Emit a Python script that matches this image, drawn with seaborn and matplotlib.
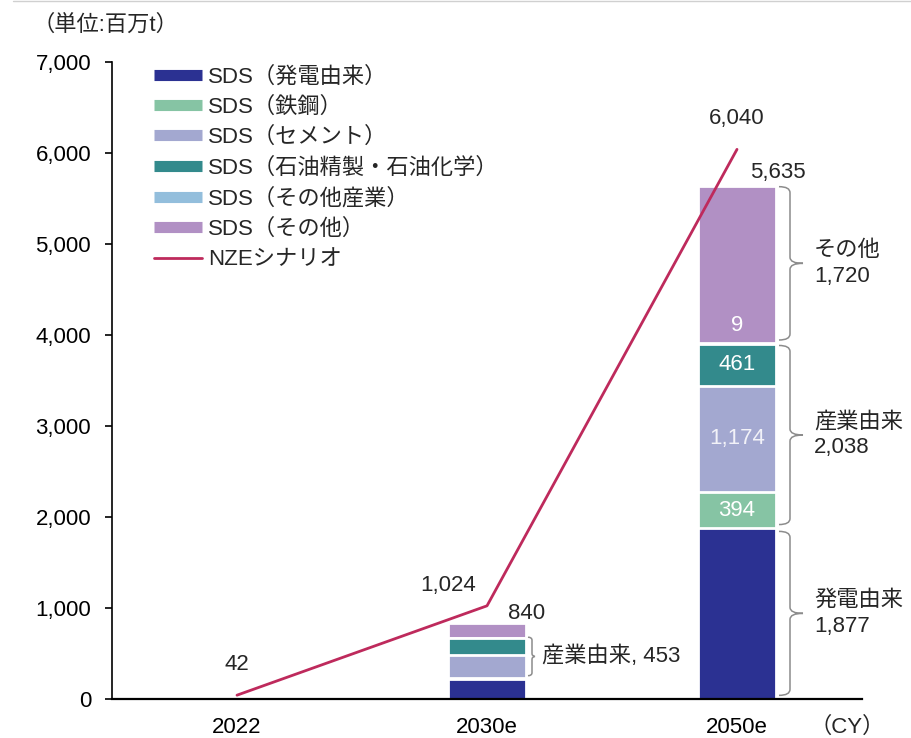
import numpy as np
import matplotlib
matplotlib.use("Agg")
import matplotlib.pyplot as plt
from matplotlib.path import Path
from matplotlib.patches import PathPatch
from matplotlib.lines import Line2D
from matplotlib.ticker import FuncFormatter, MultipleLocator
import seaborn as sns

# ---------------- data ----------------
years = ["2022", "2030e", "2050e"]
power = [0, 219, 1877]        # SDS（発電由来）
steel = [0, 10, 394]          # SDS（鉄鋼）
cement = [0, 255, 1174]       # SDS（セメント）
petchem = [0, 182, 461]       # SDS（石油精製・石油化学）
other_ind = [0, 6, 9]         # SDS（その他産業）
other = [0, 168, 1720]        # SDS（その他）
nze = [42, 1024, 6040]        # NZEシナリオ

series_names = ["SDS（発電由来）", "SDS（鉄鋼）", "SDS（セメント）",
                "SDS（石油精製・石油化学）", "SDS（その他産業）", "SDS（その他）"]
nze_name = "NZEシナリオ"
colors = ["#2B3192", "#86C4A4", "#A3A8D0", "#338A8C", "#93BEDC", "#B190C4"]
line_color = "#BE2A5C"

sns.set_theme(style="ticks")
plt.rcParams["font.family"] = ["Liberation Sans", "Noto Sans CJK JP", "DejaVu Sans"]
FS = 16

W, H = 911, 738
fig = plt.figure(figsize=(W / 100, H / 100), dpi=100)
ax_l, ax_b, ax_w, ax_h = 112, 39, 750, 637
ax = fig.add_axes([ax_l / W, ax_b / H, ax_w / W, ax_h / H])

series = [power, steel, cement, petchem, other_ind, other]
cums = np.cumsum(np.array(series, dtype=float), axis=0)
BW = 0.31
# draw cumulative stacks from top to bottom (overlay stacking)
for i in range(len(series) - 1, -1, -1):
    sns.barplot(x=years, y=cums[i], color=colors[i], width=BW, order=years,
                edgecolor="white", linewidth=2, saturation=1, errorbar=None, ax=ax)

xpos = np.arange(len(years))
sns.lineplot(x=xpos, y=nze, color=line_color, linewidth=2, ax=ax)

ax.set_xlim(-0.5, 2.5)
ax.set_ylim(0, 7000)
ax.yaxis.set_major_locator(MultipleLocator(1000))
ax.yaxis.set_major_formatter(FuncFormatter(lambda v, _: f"{int(v):,}"))
ax.set_xticks(xpos)
ax.set_xticklabels(years)
ax.set_xlabel("")
ax.set_ylabel("")
for s in ["top", "right"]:
    ax.spines[s].set_visible(False)
ax.spines["left"].set_color("black")
ax.spines["left"].set_linewidth(1.2)
ax.spines["bottom"].set_color("black")
ax.spines["bottom"].set_linewidth(1.6)
ax.tick_params(axis="y", direction="out", length=5, width=1.2, pad=10, labelsize=FS,
               colors="black")
ax.tick_params(axis="x", length=0, pad=13, labelsize=FS, colors="black")

# pixel -> data unit helpers
ux = 3.0 / ax_w
uy = 7000.0 / ax_h

def off(text, x, y, dx, dy, **kw):
    ax.annotate(text, (x, y), xytext=(dx, dy), textcoords="offset pixels",
                ha=kw.pop("ha", "center"), va=kw.pop("va", "center"),
                fontsize=FS, **kw)

# NZE labels
off(f"{nze[0]:,}", 0, nze[0], 0, 31)
off(f"{nze[1]:,}", 1, nze[1], -39, 20)
off(f"{nze[2]:,}", 2, nze[2], 0, 31)

# totals
totals = cums[-1]
off(f"{int(totals[1]):,}", 1, totals[1], 40, 9)
off(f"{int(totals[2]):,}", 2, totals[2], 41, 14)

# white labels in 2050 bar
j = 2
off(f"{steel[j]:,}", j, power[j] + steel[j] / 2, 0, 0, color="white")
off(f"{cement[j]:,}", j, cums[1][j] + cement[j] / 2, 0, 0, color="#F2F2F8")
off(f"{petchem[j]:,}", j, cums[2][j] + petchem[j] / 2, 0, 0, color="white")
off(f"{other_ind[j]:,}", j, cums[4][j], 0, 17, color="white")

def brace(xc, y0, y1, px0, pxv, pxt, rp):
    x0 = xc + px0 * ux
    xv = xc + pxv * ux
    xt = xc + pxt * ux
    r = rp * uy
    ym = (y0 + y1) / 2
    verts = [(x0, y1), (xv, y1), (xv, y1 - r),
             (xv, ym + r),
             (xv, ym), (xt, ym),
             (xv, ym), (xv, ym - r),
             (xv, y0 + r),
             (xv, y0), (x0, y0)]
    codes = [Path.MOVETO, Path.CURVE3, Path.CURVE3,
             Path.LINETO,
             Path.CURVE3, Path.CURVE3,
             Path.CURVE3, Path.CURVE3,
             Path.LINETO,
             Path.CURVE3, Path.CURVE3]
    ax.add_patch(PathPatch(Path(verts, codes), facecolor="none",
                           edgecolor="#8C8C8C", linewidth=1.1))
    return ym

# 2030 brace (industry)
j = 1
ind30 = steel[j] + cement[j] + petchem[j] + other_ind[j]
ym = brace(j, power[j] + 37, cums[4][j] + 7, 41, 45, 48, 3)
off(f"産業由来, {ind30:,}", j, ym, 55, 0, ha="left")

# 2050 braces
j = 2
ind50 = steel[j] + cement[j] + petchem[j] + other_ind[j]
groups = [(0 + 40, power[j] - 35, f"発電由来\n{power[j]:,}"),
          (power[j] + 40, cums[4][j] - 30, f"産業由来\n{ind50:,}"),
          (cums[4][j] + 30, totals[j] - 5, f"その他\n{other[j]:,}")]
for lo, hi, lab in groups:
    ym = brace(j, lo, hi, 42, 53, 66, 6)
    off(lab, j, ym, 77, 0, ha="left", linespacing=1.3)

# legend
handles = [Line2D([], [], color=c, lw=8, solid_capstyle="butt") for c in colors]
handles.append(Line2D([], [], color=line_color, lw=2))
leg = fig.legend(handles, series_names + [nze_name], loc="upper left",
                 bbox_to_anchor=(154 / W, 1 - 66 / H), frameon=False,
                 borderpad=0, borderaxespad=0, handlelength=2.15,
                 handletextpad=0.3, labelspacing=0.42, fontsize=FS)

# unit / axis notes
fig.text(33 / W, 1 - 25 / H, "（単位:百万t）", fontsize=FS, ha="left", va="center")
fig.text(847 / W, 1 - 727 / H, "（CY）", fontsize=FS, ha="center", va="center")
fig.add_artist(Line2D([13 / W, 1], [1 - 1 / H, 1 - 1 / H], color="#D0D0D0", lw=1,
                      transform=fig.transFigure))

fig.savefig("out.png", dpi=100, facecolor="white")
